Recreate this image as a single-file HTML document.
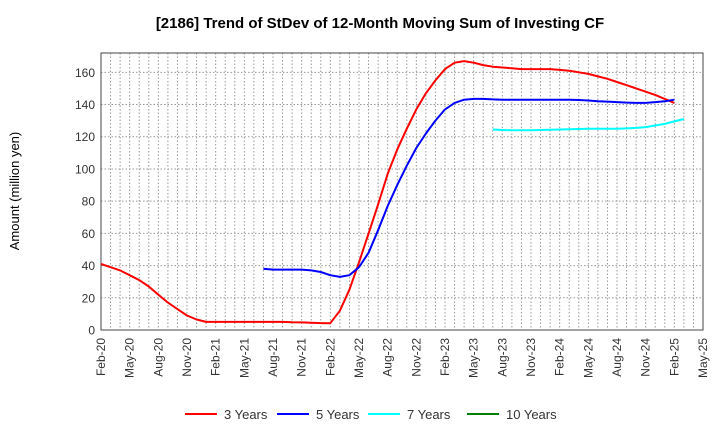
<!DOCTYPE html>
<html><head><meta charset="utf-8"><style>
body{margin:0;background:#fff;font-family:"Liberation Sans",Arial,sans-serif}
</style></head><body>
<svg id="chart" width="720" height="440" xmlns="http://www.w3.org/2000/svg" font-family="Liberation Sans, Arial, sans-serif">
<text x="380" y="28" text-anchor="middle" font-size="15" font-weight="bold">[2186]  Trend of StDev of 12-Month Moving Sum of Investing CF</text>
<text x="19" y="191" text-anchor="middle" font-size="13" transform="rotate(-90 19 191)">Amount (million yen)</text>
<g id="grid"></g><g id="axes"></g><g id="series"></g><g id="legend"></g>
</svg>
<script>
const xTicks=["Feb-20","May-20","Aug-20","Nov-20","Feb-21","May-21","Aug-21","Nov-21","Feb-22","May-22","Aug-22","Nov-22","Feb-23","May-23","Aug-23","Nov-23","Feb-24","May-24","Aug-24","Nov-24","Feb-25","May-25"];
const yTicks=[0,20,40,60,80,100,120,140,160];
const seriesNames=["3 Years","5 Years","7 Years","10 Years"];
const seriesColors=["#ff0000","#0000ff","#00ffff","#008000"];
const s3=[41,39,37,34,31,27,22,17,13,9,6.5,5,5,5,5,5,5,5,5,5,4.8,4.7,4.5,4.3,4.2,12,25,42,60,78,97,112,125,137,147,155,162,166,167,166,164.5,163.5,163,162.5,162,162,162,162,161.5,161,160,159,157.5,156,154,152,150,148,146,143.5,141];
const s5=[null,null,null,null,null,null,null,null,null,null,null,null,null,null,null,null,null,38,37.5,37.5,37.5,37.5,37,36,34,33,34,39,48,62,77,90,102,113,122,130,137,141,143,143.5,143.5,143.2,143,143,143,143,143,143,143,143,142.8,142.5,142,141.8,141.5,141.2,141,141,141.5,142,143];
const s7=[null,null,null,null,null,null,null,null,null,null,null,null,null,null,null,null,null,null,null,null,null,null,null,null,null,null,null,null,null,null,null,null,null,null,null,null,null,null,null,null,null,124.5,124.2,124,124,124,124.2,124.3,124.5,124.6,124.8,125,125,125,125,125.2,125.5,126,127,128,129.5,131];
const s10=[];
const L=101,R=703,T=53,B=330,NM=63,YMAX=172;
const xs=m=>L+(R-L)*m/NM, ys=v=>B-(B-T)*v/YMAX;
const NS="http://www.w3.org/2000/svg";
function mk(tag,attrs,parent){const e=document.createElementNS(NS,tag);for(const k in attrs)e.setAttribute(k,attrs[k]);parent.appendChild(e);return e;}
const grid=document.getElementById('grid'),axes=document.getElementById('axes'),ser=document.getElementById('series'),leg=document.getElementById('legend');
for(let m=1;m<NM;m++){const g=mk('line',{x1:xs(m),x2:xs(m),y1:T,y2:B,stroke:'#999','stroke-dasharray':'1.5,2','stroke-width':1},grid);

}
yTicks.forEach(v=>{const g=mk('line',{x1:L,x2:R,y1:ys(v),y2:ys(v),stroke:'#999','stroke-dasharray':'1.5,2','stroke-width':1},grid);


const t=mk('text',{x:L-6,y:ys(v)+4.5,'text-anchor':'end','font-size':12,fill:'#333'},axes);t.textContent=v;

});
xTicks.forEach((lab,i)=>{const x=xs(i*3);const t=mk('text',{x:x+4,y:B+8,'text-anchor':'end','font-size':12,fill:'#333',transform:`rotate(-90 ${x+4} ${B+8})`},axes);t.textContent=lab;

});
const frame=mk('rect',{x:L,y:T,width:R-L,height:B-T,fill:'none',stroke:'#444','stroke-width':1},axes);


[s3,s5,s7,s10].forEach((s,i)=>{let d='';let pen=false;s.forEach((v,m)=>{if(v==null){pen=false;return;}d+=(pen?'L':'M')+xs(m).toFixed(1)+','+ys(v).toFixed(1);pen=true;});
if(d){const p=mk('path',{d:d,fill:'none',stroke:seriesColors[i],'stroke-width':2,'stroke-linejoin':'round'},ser);

}});
const lx=[185,277,368,467];
seriesNames.forEach((n,i)=>{const g=mk('g',{},leg);


mk('line',{x1:lx[i],x2:lx[i]+32,y1:414,y2:414,stroke:seriesColors[i],'stroke-width':2},g);
const t=mk('text',{x:lx[i]+39,y:419,'font-size':13,fill:'#333'},g);t.textContent=n;});
</script>
</body></html>
